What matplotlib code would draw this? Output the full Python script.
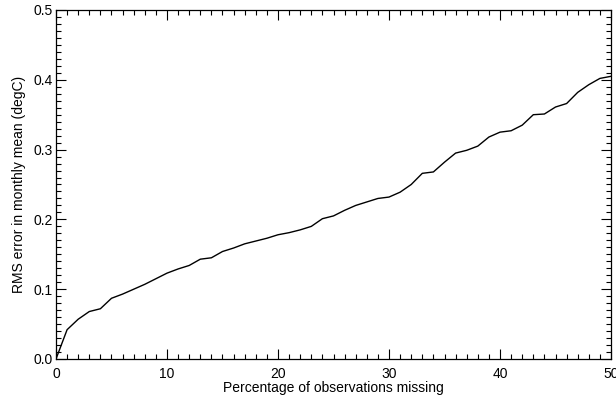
"""
RMS error of monthly mean vs. percentage of missing observations.
IDL-style line plot: inward ticks on all four sides, minor ticks.
"""
import matplotlib
matplotlib.use('Agg')
import matplotlib.pyplot as plt
from matplotlib.ticker import MultipleLocator

# values, one point per percent missing
pct_missing = list(range(0, 51))
rms_error = [0.000, 0.042, 0.057, 0.068, 0.072, 0.087, 0.093, 0.100, 0.107, 0.115,
             0.123, 0.129, 0.134, 0.143, 0.145, 0.154, 0.159, 0.165, 0.169, 0.173,
             0.178, 0.181, 0.185, 0.190, 0.201, 0.205, 0.213, 0.220, 0.225, 0.230,
             0.232, 0.239, 0.250, 0.266, 0.268, 0.282, 0.295, 0.299, 0.305, 0.318,
             0.325, 0.327, 0.335, 0.350, 0.351, 0.361, 0.366, 0.382, 0.393, 0.402,
             0.405]

x_ticks = [0, 10, 20, 30, 40, 50]
y_ticks = [0.0, 0.1, 0.2, 0.3, 0.4, 0.5]

plt.rcParams['font.family'] = ['Liberation Sans', 'DejaVu Sans']
plt.rcParams['font.size'] = 10

fig = plt.figure(figsize=(6.16, 4.0), dpi=100)
ax = fig.add_axes([0.0909, 0.1025, 0.901, 0.8725])

ax.plot(pct_missing, rms_error, color='black', linewidth=1.0)

ax.set_xlim(0, 50)
ax.set_ylim(0, 0.5)
ax.set_xticks(x_ticks)
ax.set_xticklabels([str(t) for t in x_ticks])
ax.set_yticks(y_ticks)
ax.set_yticklabels([f"{t:.1f}" for t in y_ticks])
ax.xaxis.set_minor_locator(MultipleLocator(1))
ax.yaxis.set_minor_locator(MultipleLocator(0.01))

ax.tick_params(which='both', direction='in', top=True, right=True, width=0.8, color='black')
ax.tick_params(which='major', length=7.2)
ax.tick_params(which='minor', length=3.6)
ax.tick_params(axis='x', which='major', pad=6)
ax.tick_params(axis='y', which='major', pad=2.5)
for s in ax.spines.values():
    s.set_linewidth(0.9)

ax.set_xlabel('Percentage of observations missing', labelpad=0)
ax.set_ylabel('RMS error in monthly mean (degC)', labelpad=5)

fig.savefig('out.png', dpi=100)
